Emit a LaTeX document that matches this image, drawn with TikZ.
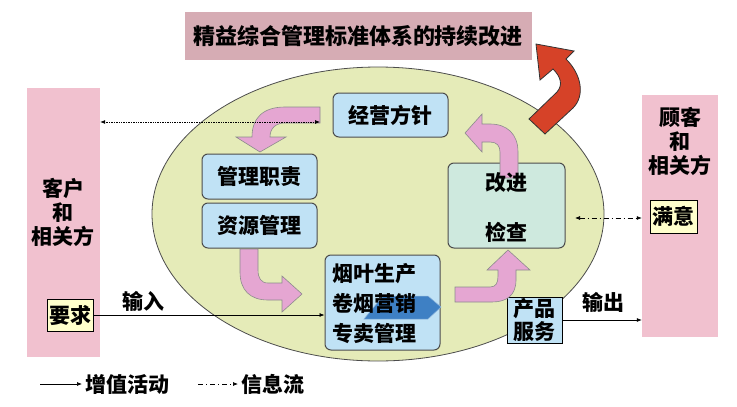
\documentclass[tikz,border=0pt]{standalone}
\usepackage{fontspec}
\setmainfont{Noto Sans CJK SC}
\usetikzlibrary{arrows.meta, shapes.geometric}
\definecolor{sidepink}{RGB}{241,193,207}
\definecolor{titlepink}{RGB}{214,172,180}
\definecolor{ovalgreen}{RGB}{229,235,184}
\definecolor{boxblue}{RGB}{192,226,245}
\definecolor{boxteal}{RGB}{206,233,222}
\definecolor{noteyellow}{RGB}{255,255,204}
\definecolor{flowpink}{RGB}{229,166,210}
\definecolor{turnred}{RGB}{214,66,40}
\definecolor{chevblue}{RGB}{62,128,196}

\begin{document}
\begin{tikzpicture}[x=1pt, y=-1pt,
  every node/.style={font=\fontsize{21}{24}\selectfont\bfseries},
  procbox/.style={draw=black!70, line width=1pt, fill=boxblue, rounded corners=6pt, inner sep=0pt},
  notebox/.style={draw=black, line width=0.8pt, fill=noteyellow, inner sep=1pt},
  sidecol/.style={fill=sidepink, inner sep=0pt},
  flowarrow/.style={fill=flowpink, draw=black!45, line width=0.6pt},
  dashdotted/.style={dash pattern=on 5pt off 3pt on 1pt off 3pt},
  valueline/.style={line width=0.7pt, -{Latex[length=5pt, width=4pt]}},
  infoline/.style={densely dotted, line width=0.7pt, {Latex[length=5pt, width=4pt]}-{Latex[length=5pt, width=4pt]}},
  dashline/.style={dashdotted, line width=0.7pt, {Latex[length=5pt, width=4pt]}-{Latex[length=5pt, width=4pt]}}]
  \useasboundingbox (0,0) rectangle (737,407);
  % Title
  \node[fill=titlepink, minimum width=347, minimum height=48, inner sep=0pt, font=\fontsize{22}{24}\selectfont\bfseries] (title) at (358,36) {精益综合管理标准体系的持续改进};
  % Customer columns
  \node[sidecol, minimum width=73, minimum height=269] (leftcol) at (63.5,222.5) {};
  \node[align=center] (custtxt) at (63,212) {客户\\和\\相关方};
  \node[notebox, minimum width=46, minimum height=32] (req) at (70,315) {要求};
  \node[sidecol, minimum width=76, minimum height=242] (rightcol) at (680,216) {};
  \node[align=center] (clienttxt) at (680,141) {顾客\\和\\相关方};
  \node[notebox, minimum width=47, minimum height=33] (sat) at (673.5,216.5) {满意};
  % Oval
  \node[draw=black!70, line width=0.8pt, fill=ovalgreen, ellipse, minimum width=452, minimum height=294] (oval) at (378,214) {};
  % Continual improvement arrow
  \filldraw[fill=turnred, draw=black!80, line width=0.8pt] (529,119) -- (557,92)
    .. controls (563,85) and (561,77) .. (553,69) -- (540,80) -- (536,44) -- (574,51) -- (566,59)
    .. controls (582,75) and (585,96) .. (573,108) -- (545,134) -- cycle;
  % Process boxes
  \node[procbox, minimum width=115, minimum height=44] (policy) at (390.5,115) {经营方针};
  \node[procbox, minimum width=115, minimum height=45] (duty) at (259.5,176.5) {管理职责};
  \node[procbox, minimum width=115, minimum height=45] (resource) at (259.5,225.5) {资源管理};
  \node[procbox, minimum width=115, minimum height=95] (prod) at (382.5,302.5) {};
  \filldraw[fill=chevblue, draw=chevblue!60, line width=0.5pt] (383,296) -- (428,296) -- (441,307) -- (428,319) -- (364,319) -- cycle;
  \node[align=left, font=\fontsize{21}{30}\selectfont\bfseries] (prodtxt) at (374,304) {烟叶生产\\卷烟营销\\专卖管理};
  \node[procbox, fill=boxteal, minimum width=117, minimum height=85] (check) at (506.5,205.5) {};
  \node[draw=black, line width=0.8pt, fill=boxblue, minimum width=55, minimum height=46, inner sep=0pt, align=center, font=\fontsize{21}{23}\selectfont\bfseries] (prodsvc) at (534.5,320) {产品\\服务};
  % Pink flow arrows
  \filldraw[flowarrow] (320,107) -- (285,107) .. controls (263,107) and (252,118) .. (252,137)
    -- (236,137) -- (260,152) -- (286,137) -- (270,137) .. controls (270,128) and (276,123) .. (285,123)
    -- (320,123) -- cycle;
  \filldraw[flowarrow] (240,249) -- (240,272) .. controls (240,290) and (250,300) .. (268,300)
    -- (282,300) -- (282,312) -- (302,294) -- (282,276) -- (282,283) -- (268,283)
    .. controls (261,283) and (258,278) .. (258,270) -- (258,249) -- cycle;
  \filldraw[flowarrow] (455,287) -- (490,287) .. controls (496,287) and (498,283) .. (498,276)
    -- (498,270) -- (487,270) -- (508,250) -- (530,270) -- (516,270) -- (516,280)
    .. controls (516,295) and (507,302) .. (492,302) -- (455,302) -- cycle;
  \filldraw[flowarrow] (500,178) -- (500,152) .. controls (500,146) and (497,142) .. (490,142)
    -- (482,142) -- (482,152) -- (465,133) -- (482,114) -- (482,124) -- (490,124)
    .. controls (507,124) and (518,134) .. (518,152) -- (518,178) -- cycle;
  \node (improve) at (506.5,183) {改进};
  \node (inspect) at (506.5,232) {检查};
  % Flows
  \draw[valueline] (req.east) -- (req.east -| prod.west);
  \node (inlabel) at (143,301) {输入};
  \draw[valueline] (prodsvc.east) -- (prodsvc.east -| rightcol.west);
  \node (outlabel) at (603,302) {输出};
  \coordinate (policyin) at (320,122);
  \draw[infoline] (policyin) -- (policyin -| leftcol.east);
  \coordinate (satout) at (575,218);
  \draw[dashline] (satout) -- (satout -| rightcol.west);
  % Legend
  \coordinate (lgvalue) at (40,384);
  \draw[valueline] (lgvalue) -- ++(42,0) node[right, inner sep=3pt] (lgvaluetxt) {增值活动};
  \coordinate (lginfo) at (198,384);
  \draw[dashdotted, line width=0.7pt, -{Latex[length=5pt, width=4pt]}] (lginfo) -- ++(40,0) node[right, inner sep=3pt] (lginfotxt) {信息流};
\end{tikzpicture}
\end{document}
